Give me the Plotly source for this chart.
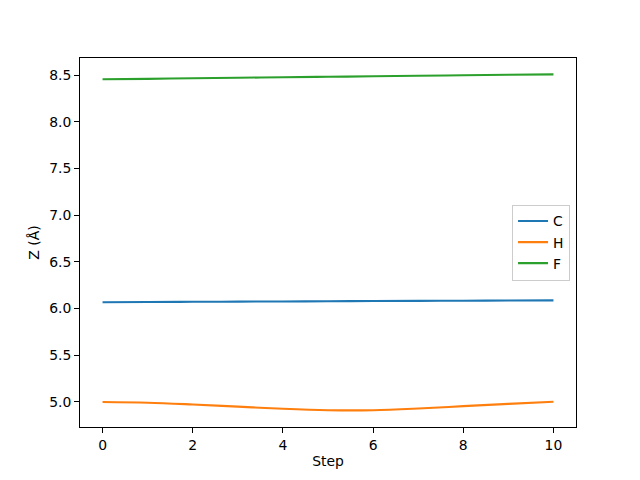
import plotly.graph_objects as go

steps = list(range(11))
z_C = [6.067, 6.070, 6.072, 6.074, 6.076, 6.078, 6.080, 6.082, 6.084, 6.086, 6.088]
z_H = [5.000, 4.992, 4.973, 4.950, 4.927, 4.912, 4.912, 4.930, 4.955, 4.980, 5.003]
z_F = [8.454, 8.459, 8.465, 8.470, 8.476, 8.481, 8.486, 8.492, 8.497, 8.502, 8.507]
names = ["C", "H", "F"]
colors = ["#1f77b4", "#ff7f0e", "#2ca02c"]

FONT = dict(family="DejaVu Sans", size=13.9, color="black")

fig = go.Figure()
for name, ys, c in zip(names, [z_C, z_H, z_F], colors):
    fig.add_trace(go.Scatter(x=steps, y=ys, mode="lines", name=name,
                             line=dict(color=c, width=2.1, shape="spline")))

axis_common = dict(showgrid=False, zeroline=False, showline=True, mirror=True,
                   linecolor="black", linewidth=1.1, ticks="outside", ticklen=4.9,
                   tickwidth=1.1, tickcolor="black", tickfont=FONT, automargin=False)
fig.update_layout(
    width=640, height=480,
    margin=dict(l=72, r=72, t=50, b=61),
    paper_bgcolor="white", plot_bgcolor="white",
    xaxis=dict(range=[-0.5, 10.5], tickvals=[0, 2, 4, 6, 8, 10],
               title=dict(text="Step", font=FONT, standoff=4),
               **axis_common),
    yaxis=dict(range=[4.732, 8.682], tickvals=[5.0, 5.5, 6.0, 6.5, 7.0, 7.5, 8.0, 8.5],
               tickformat=".1f",
               title=dict(text="Z (Å)", font=FONT, standoff=6),
               **axis_common),
    legend=dict(x=0.988, y=0.5, xanchor="right", yanchor="middle",
                bgcolor="rgba(255,255,255,0.8)", bordercolor="#cccccc", borderwidth=1,
                font=FONT, itemwidth=30, tracegroupgap=0),
    showlegend=True,
)
fig.write_html("out.html")
